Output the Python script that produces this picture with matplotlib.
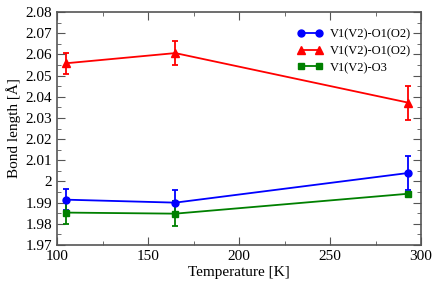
import matplotlib
matplotlib.use("Agg")
import matplotlib.pyplot as plt
from matplotlib.ticker import MultipleLocator
from matplotlib.lines import Line2D

plt.rcParams['font.family'] = ['Liberation Serif', 'DejaVu Serif']

temps = [105, 165, 293]

o1_a = [1.9914, 1.9900, 2.0040]
o1_a_err = [0.005, 0.006, 0.008]

o1_b = [2.0558, 2.0606, 2.0372]
o1_b_err = [0.005, 0.0055, 0.008]

o3 = [1.9853, 1.9848, 1.9942]
o3_err = [0.0055, 0.006, 0.001]

labels = ['V1(V2)-O1(O2)', 'V1(V2)-O1(O2)', 'V1(V2)-O3']
colors = ['blue', 'red', 'green']
markers = ['o', '^', 's']
sizes = [5, 5.5, 4.5]

fig = plt.figure(figsize=(4.36, 2.85), dpi=100)
ax = fig.add_axes([57/436, 40/285, 364/436, 233/285])

for ys, err, c, m, s in zip([o1_a, o1_b, o3], [o1_a_err, o1_b_err, o3_err],
                            colors, markers, sizes):
    ax.errorbar(temps, ys, yerr=err, color=c, marker=m, ms=s,
                lw=1.3, capsize=2.5, elinewidth=1.3, capthick=1.3)

ax.set_xlim(100, 300)
ax.set_ylim(1.97, 2.08)
ax.xaxis.set_major_locator(MultipleLocator(50))
ax.xaxis.set_minor_locator(MultipleLocator(25))
ax.yaxis.set_minor_locator(MultipleLocator(0.005))
ax.set_yticks([1.97, 1.98, 1.99, 2.0, 2.01, 2.02, 2.03, 2.04, 2.05, 2.06, 2.07, 2.08])
ax.set_yticklabels(['1.97', '1.98', '1.99', '2', '2.01', '2.02', '2.03', '2.04',
                    '2.05', '2.06', '2.07', '2.08'])

ax.tick_params(which='both', direction='in', top=True, right=True, labelsize=11,
               color='#555555')
ax.tick_params(which='major', length=6)
ax.tick_params(which='minor', length=3)
for sp in ax.spines.values():
    sp.set_color('#555555')
    sp.set_linewidth(1.2)

ax.set_xlabel('Temperature [K]', fontsize=11, labelpad=2)
ax.set_ylabel('Bond length [Å]', fontsize=11, labelpad=3)

handles = [Line2D([0], [0], color=c, marker=m, ms=s, lw=1.3)
           for c, m, s in zip(colors, markers, sizes)]
ax.legend(handles, labels, loc='upper left', frameon=False, fontsize=9,
          handlelength=2.1, handletextpad=0.5, labelspacing=0.38,
          bbox_to_anchor=(0.659, 0.93), numpoints=2, borderaxespad=0,
          borderpad=0)

fig.savefig('out.png', dpi=100)
